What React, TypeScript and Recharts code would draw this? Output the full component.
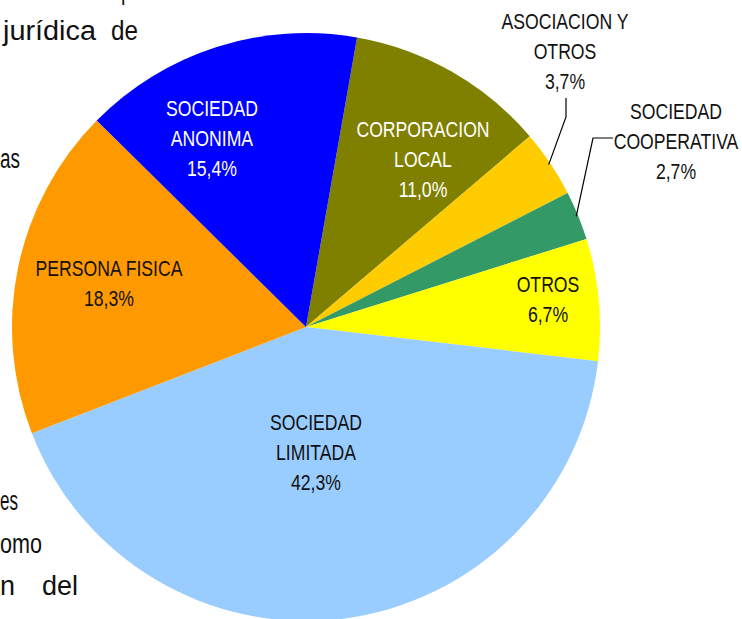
import React from "react";
import { PieChart, Pie, Cell } from "recharts";

const categories = [
  "CORPORACION LOCAL",
  "ASOCIACION Y OTROS",
  "SOCIEDAD COOPERATIVA",
  "OTROS",
  "SOCIEDAD LIMITADA",
  "PERSONA FISICA",
  "SOCIEDAD ANONIMA",
];
const values = [11.0, 3.7, 2.7, 6.7, 42.3, 18.3, 15.4];
const labelLines = [
  ["CORPORACION", "LOCAL"],
  ["ASOCIACION Y", "OTROS"],
  ["SOCIEDAD", "COOPERATIVA"],
  ["OTROS"],
  ["SOCIEDAD", "LIMITADA"],
  ["PERSONA FISICA"],
  ["SOCIEDAD", "ANONIMA"],
];

const COLORS = ["#808000", "#FFCC00", "#339966", "#FFFF00", "#99CCFF", "#FF9900", "#0000FF"];
const TEXT_COLORS = ["#ffffff", "#111111", "#111111", "#111111", "#111111", "#111111", "#ffffff"];
// label block placement relative to pie centre (first line centre)
const LABEL_OFFSETS: [number, number][] = [
  [117, -198],
  [259, -306],
  [370, -216],
  [242, -43],
  [10, 95],
  [-197, -59],
  [-94, -219],
];
// leader line start points relative to pie centre (outside labels only)
const LEADERS: Record<number, [number, number][]> = {
  1: [[260, -229], [260, -210]],
  2: [[307, -189], [287, -189]],
};

const data = categories.map((name, i) => ({ name, value: values[i] }));

const FONT = "'Liberation Sans', Arial, sans-serif";
const RADIAN = Math.PI / 180;
const LINE_H = 30;
const SQUEEZE = 0.82;

const renderLabel = (props: any) => {
  const { cx, cy, midAngle, outerRadius, index, value } = props;
  const [dx, dy] = LABEL_OFFSETS[index];
  const lines = [...labelLines[index], value.toFixed(1).replace(".", ",") + "%"];
  const x = cx + dx;
  const leader = LEADERS[index];
  let line = null;
  if (leader) {
    const r = outerRadius - 2;
    const ex = cx + r * Math.cos(-midAngle * RADIAN);
    const ey = cy + r * Math.sin(-midAngle * RADIAN);
    const pts = leader.map(([a, b]) => `${cx + a},${cy + b}`).join(" ") + ` ${ex},${ey}`;
    line = <polyline points={pts} fill="none" stroke="#000" strokeWidth={1.2} />;
  }
  return (
    <g key={`lbl-${index}`}>
      {line}
      {lines.map((t, k) => (
        <text
          key={k}
          transform={`translate(${x},${cy + dy + k * LINE_H + 7.7}) scale(${SQUEEZE},1)`}
          x={0}
          y={0}
          textAnchor="middle"
          fill={TEXT_COLORS[index]}
          style={{ fontFamily: FONT, fontSize: 21.5 }}
        >
          {t}
        </text>
      ))}
    </g>
  );
};

const DOC_FONT = "'Liberation Sans', Arial, sans-serif";
const docText: { t: string; x: number; y: number; w: number }[] = [
  { t: "p", x: 121, y: -1, w: 11 },
  { t: "jurídica", x: 3, y: 40, w: 93 },
  { t: "de", x: 111, y: 40, w: 27 },
  { t: "as", x: 0, y: 168, w: 20 },
  { t: "es", x: 0, y: 510, w: 18 },
  { t: "omo", x: 0, y: 553, w: 42 },
  { t: "n", x: 0, y: 595, w: 15 },
  { t: "del", x: 42, y: 595, w: 36 },
];

export default function App() {
  return (
    <div style={{ position: "fixed", left: 0, top: 0, width: 742, height: 619, background: "#fff", overflow: "hidden" }}>
      <svg width={742} height={619} style={{ position: "absolute", left: 0, top: 0 }}>
        {docText.map((d, i) => (
          <text
            key={i}
            x={d.x}
            y={d.y}
            textLength={d.w}
            lengthAdjust="spacingAndGlyphs"
            fill="#111"
            style={{ fontFamily: DOC_FONT, fontSize: 27 }}
          >
            {d.t}
          </text>
        ))}
      </svg>
      <div style={{ position: "absolute", left: 0, top: 0 }}>
        <PieChart width={742} height={619} margin={{ top: 0, right: 0, bottom: 0, left: 0 }}>
          <Pie
            data={data}
            dataKey="value"
            nameKey="name"
            cx={306}
            cy={327}
            outerRadius={294}
            startAngle={80}
            endAngle={-280}
            stroke="none"
            label={renderLabel}
            labelLine={false}
            isAnimationActive={false}
          >
            {data.map((_, i) => (
              <Cell key={i} fill={COLORS[i]} />
            ))}
          </Pie>
        </PieChart>
      </div>
    </div>
  );
}
